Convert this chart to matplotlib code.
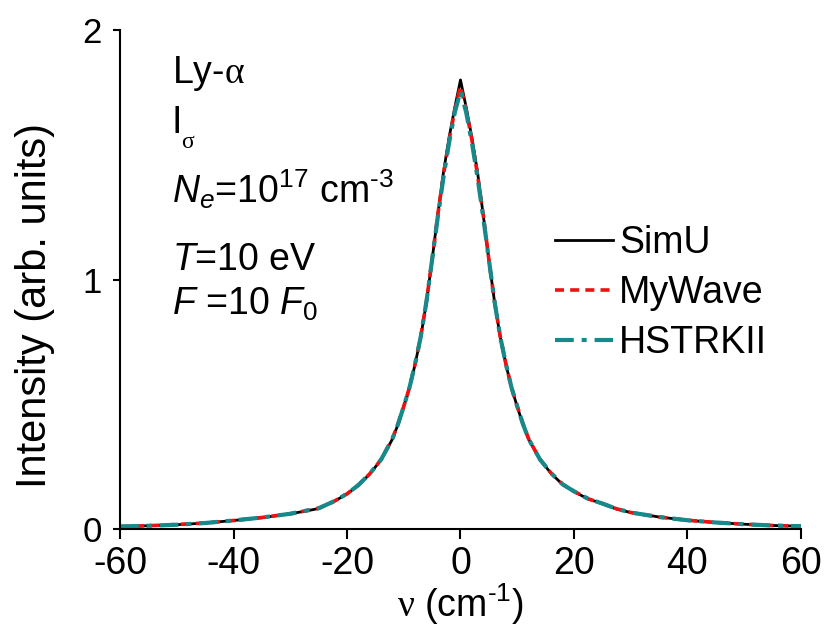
import numpy as np
import matplotlib
matplotlib.use("Agg")
import matplotlib.pyplot as plt

plt.rcParams['font.family'] = ['Liberation Sans', 'DejaVu Sans']
plt.rcParams['mathtext.fontset'] = 'custom'
plt.rcParams['mathtext.rm'] = 'Liberation Sans'
plt.rcParams['mathtext.it'] = 'Liberation Sans:italic'
plt.rcParams['mathtext.sf'] = 'Liberation Serif'
plt.rcParams['axes.unicode_minus'] = False

# line profile, detuning in cm^-1
nu = [-60, -55, -50, -45, -40, -35, -30, -27.5, -25, -22.5, -20, -18, -16, -14,
      -12, -11, -10, -9, -8, -7, -6, -5, -4, -3, -2, -1, 0,
      1, 2, 3, 4, 5, 6, 7, 8, 9, 10, 11, 12, 14, 16, 18, 20, 22.5, 25, 27.5,
      30, 35, 40, 45, 50, 55, 60]

simu = [0.010, 0.013, 0.017, 0.024, 0.034, 0.045, 0.061, 0.071, 0.082, 0.108,
        0.140, 0.175, 0.220, 0.277, 0.360, 0.420, 0.490, 0.565, 0.660, 0.770,
        0.910, 1.08, 1.26, 1.43, 1.57, 1.69, 1.80,
        1.69, 1.57, 1.43, 1.26, 1.08, 0.910, 0.770, 0.660, 0.565, 0.490, 0.420,
        0.360, 0.278, 0.222, 0.178, 0.150, 0.120, 0.102, 0.080, 0.066, 0.048,
        0.035, 0.026, 0.019, 0.014, 0.011]

mywave = [0.010, 0.013, 0.018, 0.024, 0.034, 0.046, 0.061, 0.072, 0.083, 0.108,
          0.141, 0.176, 0.221, 0.278, 0.362, 0.422, 0.492, 0.566, 0.662, 0.772,
          0.912, 1.08, 1.26, 1.42, 1.56, 1.68, 1.775,
          1.68, 1.56, 1.42, 1.26, 1.08, 0.912, 0.772, 0.662, 0.566, 0.492, 0.422,
          0.362, 0.279, 0.223, 0.179, 0.151, 0.121, 0.102, 0.081, 0.066, 0.048,
          0.035, 0.026, 0.019, 0.014, 0.011]

hstrk = [0.010, 0.013, 0.017, 0.024, 0.034, 0.046, 0.061, 0.072, 0.083, 0.109,
         0.141, 0.176, 0.221, 0.278, 0.361, 0.421, 0.491, 0.566, 0.661, 0.771,
         0.912, 1.08, 1.25, 1.41, 1.55, 1.67, 1.755,
         1.67, 1.55, 1.41, 1.25, 1.08, 0.912, 0.771, 0.661, 0.566, 0.491, 0.421,
         0.361, 0.279, 0.223, 0.179, 0.151, 0.121, 0.102, 0.081, 0.066, 0.048,
         0.035, 0.026, 0.019, 0.014, 0.011]

xticks = [-60, -40, -20, 0, 20, 40, 60]
yticks = [0, 1, 2]

fig = plt.figure(figsize=(8.26, 6.32), dpi=100)
ax = fig.add_axes([0.1453, 0.163, 0.8244, 0.7895])

ax.plot(nu, simu, color='black', lw=2.0, ls='-', label='SimU')
ax.plot(nu, mywave, color='#ee1111', lw=2.6, ls=(0, (2.5, 1.7)), label='MyWave')
ax.plot(nu, hstrk, color='#168a8a', lw=3.0, ls=(0, (4.5, 1.9, 1.2, 1.9)), label='HSTRKII')

ax.set_xlim(-60, 60)
ax.set_ylim(0, 2)
ax.set_xticks(xticks)
ax.set_yticks(yticks)
for s in ['top', 'right']:
    ax.spines[s].set_visible(False)
for s in ['left', 'bottom']:
    ax.spines[s].set_linewidth(1.5)
ax.tick_params(axis='both', direction='out', width=1.5)
ax.tick_params(axis='x', length=7, pad=5, labelsize=27)
ax.tick_params(axis='y', length=5, pad=8, labelsize=25)

ax.set_ylabel('Intensity (arb. units)', fontsize=30, va='center')
ax.yaxis.set_label_coords(-0.125, 0.447)
ax.set_xlabel(r'$\mathsf{\nu}$ (cm$^{\text{-1}}$)', fontsize=27, va='center')
ax.xaxis.set_label_coords(0.5, -0.150)

# plasma parameters
tx = 0.076
fs = 27
ax.text(tx, 0.894, r'Ly-$\mathsf{\alpha}$', transform=ax.transAxes, fontsize=fs, va='baseline')
ax.text(tx, 0.794, 'I', transform=ax.transAxes, fontsize=fs, va='baseline')
ax.text(0.090, 0.764, 'σ', transform=ax.transAxes, fontsize=17, va='baseline',
        family='Liberation Serif')
ax.text(tx, 0.653, r'$N_e$=10$^{17}$ cm$^{\text{-3}}$', transform=ax.transAxes,
        fontsize=fs, va='baseline')
ax.text(tx, 0.519, r'$T$=10 eV', transform=ax.transAxes, fontsize=fs, va='baseline')
ax.text(tx, 0.429, r'$F$ =10 $F_{\mathrm{0}}$', transform=ax.transAxes, fontsize=fs,
        va='baseline')

ax.legend(loc='center left', bbox_to_anchor=(0.639, 0.473), frameon=False,
          fontsize=fs, handlelength=1.55, handletextpad=0.15, labelspacing=0.38,
          borderpad=0, borderaxespad=0)

fig.savefig('out.png', dpi=100)
